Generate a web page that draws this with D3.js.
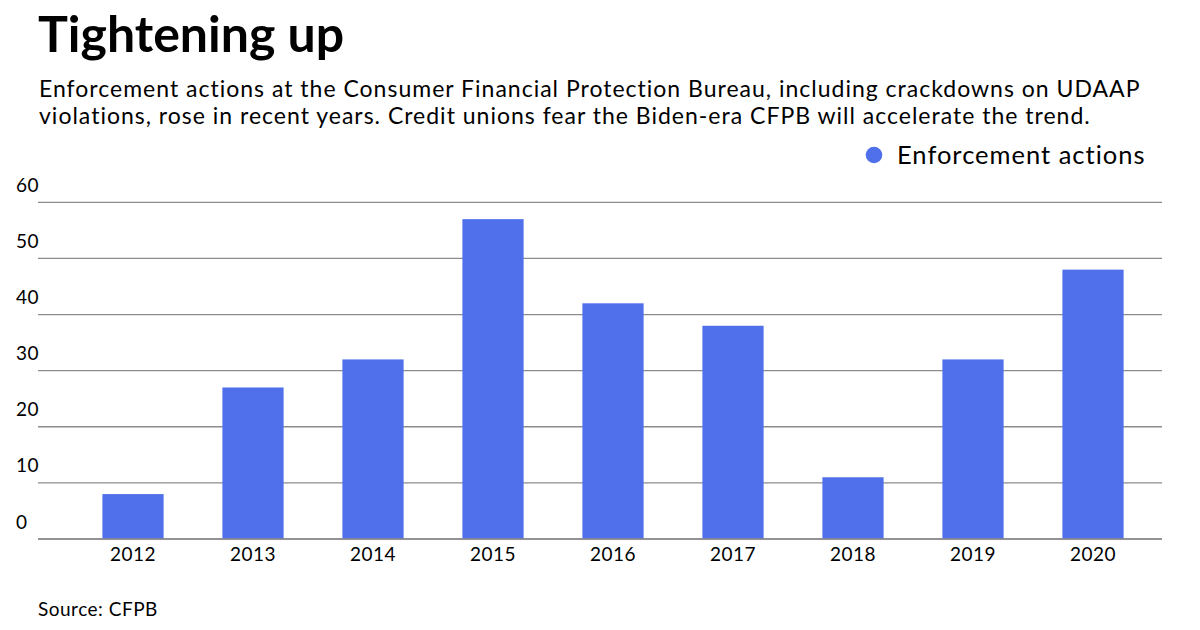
<!DOCTYPE html>
<html><head><meta charset="utf-8">
<script src="https://cdn.jsdelivr.net/npm/d3@7"></script>
<style>
html,body{margin:0;padding:0;background:#fff;}
svg{display:block;font-family:Lato, "Open Sans", sans-serif;}
</style></head>
<body>
<svg id="chart" width="1200" height="630"></svg>
<script>
const categories = ["2012","2013","2014","2015","2016","2017","2018","2019","2020"];
const values = [8, 27, 32, 57, 42, 38, 11, 32, 48];
const yTicks = [0, 10, 20, 30, 40, 50, 60];
const seriesName = "Enforcement actions";
const title = "Tightening up";
const subtitleLines = [
  "Enforcement actions at the Consumer Financial Protection Bureau, including crackdowns on UDAAP",
  "violations, rose in recent years. Credit unions fear the Biden-era CFPB will accelerate the trend."
];
const source = "Source: CFPB";

const barColor = "#5070eb";
const svg = d3.select("#chart");

svg.append("text").attr("x", 38).attr("y", 52)
  .attr("font-size", 50).attr("font-weight", 700).attr("fill", "#000").text(title);

svg.append("g").selectAll("text").data(subtitleLines).join("text")
  .attr("x", 39).attr("y", (d, i) => 96.5 + i * 27)
  .attr("font-size", 23).attr("letter-spacing", 1).attr("fill", "#000").text(d => d);

// legend
const lg = svg.append("g");
lg.append("circle").attr("cx", 874).attr("cy", 155).attr("r", 8.3).attr("fill", barColor);
lg.append("text").attr("x", 897).attr("y", 163.5).attr("font-size", 25.5).attr("letter-spacing", 1).attr("fill", "#000").text(seriesName);

const x = d3.scaleBand().domain(categories).range([73, 1153]).paddingInner(0.49).paddingOuter(0.245);
const y = d3.scaleLinear().domain([0, 60]).range([539, 202.3]);

// gridlines
const grid = svg.append("g");
grid.selectAll("line").data(yTicks).join("line")
  .attr("x1", 38).attr("x2", 1162)
  .attr("y1", d => y(d)).attr("y2", d => y(d))
  .attr("stroke", "#8c8c8c").attr("stroke-width", 1.3);

grid.selectAll("text").data(yTicks).join("text")
  .attr("x", 16).attr("y", d => y(d) - 10.5)
  .attr("font-size", 19).attr("letter-spacing", 0.5).attr("fill", "#000").text(d => d);

// bars
svg.append("g").selectAll("rect").data(values).join("rect")
  .attr("x", (d, i) => x(categories[i]))
  .attr("width", x.bandwidth())
  .attr("y", d => y(d))
  .attr("height", d => y(0) - y(d))
  .attr("fill", barColor);

// baseline redraw
svg.append("line").attr("x1", 38).attr("x2", 1162).attr("y1", y(0)).attr("y2", y(0))
  .attr("stroke", "#8c8c8c").attr("stroke-width", 1.3);

// x axis labels
const xAxis = d3.axisBottom(x).tickSize(0).tickPadding(0);
const xg = svg.append("g").attr("transform", `translate(0,${y(0)})`).call(xAxis);
xg.select(".domain").remove();
xg.selectAll("text").attr("font-size", 19).attr("font-family", "Lato").attr("letter-spacing", 0.5).attr("fill", "#000")
  .attr("dy", null).attr("y", 22);

svg.append("text").attr("x", 38).attr("y", 615.5).attr("font-size", 19).attr("letter-spacing", 0.5).attr("fill", "#000").text(source);
</script>
</body></html>
